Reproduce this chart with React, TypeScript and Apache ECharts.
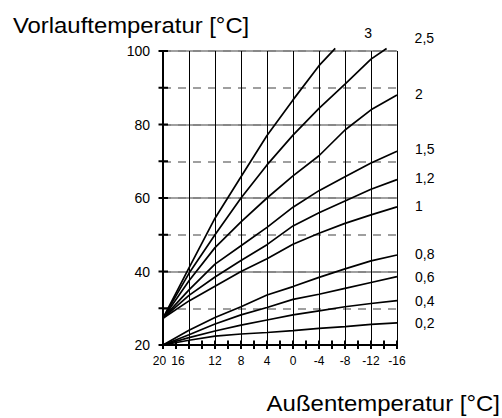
import React, { useEffect, useRef } from 'react';
import * as echarts from 'echarts';

// Außentemperatur (x) – reversed axis, 20 … -16
const outsideTemps = [20, 16, 12, 8, 4, 0, -4, -8, -12, -16];
const xTickLabels = [20, 16, 12, 8, 4, 0, -4, -8, -12, -16];
const xTickMarks = [20, 18, 16, 14, 12, 10, 8, 6, 4, 2, 0, -2, -4, -6, -8, -10, -12, -14, -16];
const yTickLabels = [20, 40, 60, 80, 100];
const yTickMarks = [20, 30, 40, 50, 60, 70, 80, 90, 100];

// Heizkurven (Vorlauftemperatur in °C)
const curveNames = ['3', '2,5', '2', '1,5', '1,2', '1', '0,8', '0,6', '0,4', '0,2'];
const curve3Temps = [20, 16, 12, 8, 4, 0, -4, -6.5];
const curve3 = [27.3, 41, 54.5, 65.8, 77, 86.7, 96, 100.7];
const curve25Temps = [20, 16, 12, 8, 4, 0, -4, -8, -12, -14.4];
const curve25 = [27.3, 39.5, 50, 60, 69, 77.1, 84.4, 91, 97.8, 100.7];
const curve2 = [27.3, 37.5, 46.5, 53.5, 60, 66, 71.5, 78.5, 84, 88];
const curve15 = [27.3, 35, 42, 47, 52, 57.5, 62, 65.8, 69.5, 72.7];
const curve12 = [27.3, 33.5, 38.5, 43, 47.3, 52.4, 56, 59.2, 62.4, 65];
const curve1 = [27.3, 32, 36, 40, 43.5, 47.4, 50.4, 53.1, 55.4, 57.6];
const curve08 = [20, 24, 27.5, 30.4, 33.6, 35.9, 38.4, 40.7, 42.9, 44.5];
const curve06 = [20, 22.8, 25.7, 28.2, 30.2, 32.4, 33.8, 35.4, 37, 38.6];
const curve04 = [20, 22, 23.8, 25.4, 26.8, 28.2, 29.3, 30.4, 31.3, 32.1];
const curve02 = [20, 21.3, 22.4, 23, 23.4, 23.9, 24.5, 25, 25.6, 26];

const FONT = 'Liberation Sans, Arial, sans-serif';
const TICK_COLOR = '#000';

function zip(ts: number[], vs: number[]) {
  return vs.map((v, i) => [ts[i], v]);
}

export default function App() {
  const ref = useRef<HTMLDivElement>(null);
  useEffect(() => {
    if (!ref.current) return;
    const chart = echarts.init(ref.current, undefined, { renderer: 'svg' });

    const curves: number[][][] = [
      zip(curve3Temps, curve3),
      zip(curve25Temps, curve25),
      zip(outsideTemps, curve2),
      zip(outsideTemps, curve15),
      zip(outsideTemps, curve12),
      zip(outsideTemps, curve1),
      zip(outsideTemps, curve08),
      zip(outsideTemps, curve06),
      zip(outsideTemps, curve04),
      zip(outsideTemps, curve02),
    ];
    const labelOffsets = [
      [29, -15], [28, -10], [18, -1.5], [18, -2], [18, -2],
      [18, -1], [18, -1], [18, 0], [18, 0], [18, 0],
    ];

    const baseX = {
      type: 'value' as const,
      gridIndex: 0,
      position: 'bottom' as const,
      min: -16,
      max: 20,
      inverse: true,
    };
    const baseY = {
      type: 'value' as const,
      gridIndex: 0,
      position: 'left' as const,
      min: 20,
      max: 100,
    };

    const curveSeries = curves.map((data, i) => ({
      type: 'line',
      name: curveNames[i],
      data,
      symbol: 'none',
      smooth: false,
      clip: false,
      lineStyle: { color: '#000', width: 1.7 },
      endLabel: {
        show: true,
        formatter: curveNames[i],
        distance: 0,
        align: 'left',
        verticalAlign: 'middle',
        offset: labelOffsets[i],
        color: '#000',
        fontSize: 14,
        fontFamily: FONT,
      },
      z: 5,
    }));

    chart.setOption({
      animation: false,
      backgroundColor: '#fff',
      grid: { left: 163, top: 51, width: 234, height: 294, containLabel: false },
      xAxis: [
        {
          ...baseX,
          interval: 4,
          axisLine: { show: true, onZero: false, lineStyle: { color: '#000', width: 2 } },
          axisTick: { show: false },
          axisLabel: {
            show: true,
            margin: 10,
            color: '#000',
            fontSize: 12,
            fontFamily: FONT,
            formatter: (v: number) => {
              if (!xTickLabels.includes(v)) return '';
              if (v === 16) return '{s|16}';
              if (v === 20) return '{t|20}';
              return String(v);
            },
            rich: {
              s: { fontSize: 12, fontFamily: FONT, color: '#000', padding: [0, 22, 0, 0] },
              t: { fontSize: 12, fontFamily: FONT, color: '#000', padding: [0, 7, 0, 0] },
            },
          },
          splitLine: { show: true, lineStyle: { color: '#000', width: 1 } },
        },
      ],
      yAxis: [
        {
          ...baseY,
          interval: 10,
          axisLine: { show: true, onZero: false, lineStyle: { color: '#000', width: 2 } },
          axisTick: { show: false },
          axisLabel: {
            show: true,
            margin: 13,
            color: '#000',
            fontSize: 14,
            fontFamily: FONT,
            formatter: (v: number) => (yTickLabels.includes(v) ? String(v) : ''),
          },
          splitLine: { show: true, lineStyle: { color: '#808080', width: 1.5, type: [8, 7] } },
        },
        {
          ...baseY,
          interval: 20,
          axisLine: { show: false, onZero: false },
          axisTick: { show: false },
          axisLabel: { show: false },
          splitLine: { show: true, lineStyle: { color: '#808080', width: 1.5 } },
        },
      ],
      graphic: [
        {
          type: 'text',
          x: 13,
          y: 25.5,
          scaleX: 1.085,
          style: {
            text: 'Vorlauftemperatur [°C]',
            x: 0,
            y: 0,
            fontSize: 22,
            fontFamily: FONT,
            fill: '#000',
            textAlign: 'left',
            textVerticalAlign: 'middle',
          },
        },
        {
          type: 'text',
          x: 500,
          y: 403,
          scaleX: 1.09,
          style: {
            text: 'Außentemperatur [°C]',
            x: 0,
            y: 0,
            fontSize: 22,
            fontFamily: FONT,
            fill: '#000',
            textAlign: 'right',
            textVerticalAlign: 'middle',
          },
        },
      ],
      series: [
        ...curveSeries,
        {
          type: 'custom',
          clip: false,
          z: 6,
          data: xTickMarks.map((t) => [t, yTickLabels[0]]),
          renderItem: (_params: any, api: any) => {
            const p = api.coord([api.value(0), api.value(1)]);
            return {
              type: 'line',
              shape: { x1: p[0], y1: p[1] - 4.5, x2: p[0], y2: p[1] + 4 },
              style: { stroke: TICK_COLOR, lineWidth: 2 },
            };
          },
        },
        {
          type: 'custom',
          clip: false,
          z: 6,
          data: yTickMarks.map((v) => [xTickLabels[0], v]),
          renderItem: (_params: any, api: any) => {
            const p = api.coord([api.value(0), api.value(1)]);
            return {
              type: 'line',
              shape: { x1: p[0] - 4.5, y1: p[1], x2: p[0] + 5, y2: p[1] },
              style: { stroke: TICK_COLOR, lineWidth: 2 },
            };
          },
        },
      ],
    });
    return () => chart.dispose();
  }, []);
  return (
    <div
      ref={ref}
      style={{ position: 'fixed', left: 0, top: 0, width: 502, height: 418, background: '#fff' }}
    />
  );
}
